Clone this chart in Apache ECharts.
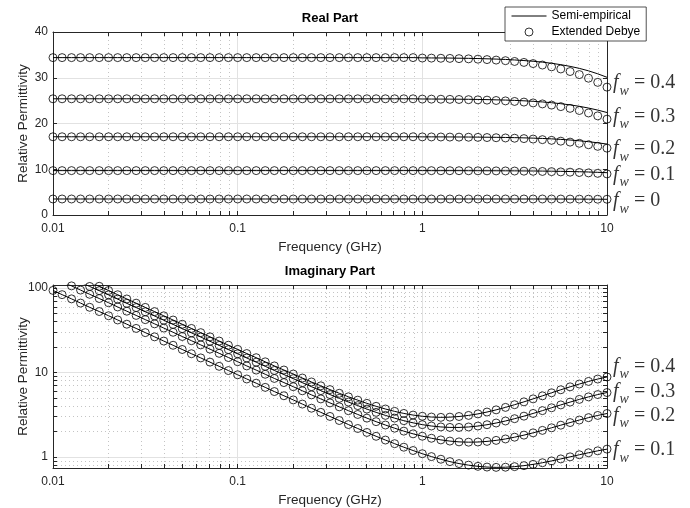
<!DOCTYPE html>
<html>
<head>
<meta charset="utf-8">
<script src="https://cdn.jsdelivr.net/npm/echarts@6/dist/echarts.min.js"></script>
<style>
html, body { margin: 0; padding: 0; background: #fff; }
#chart { width: 690px; height: 508px; }
</style>
</head>
<body>
<div id="chart"></div>
<script>
// frequency grid in GHz (20 points per decade)
const freq = [0.01, 0.0112, 0.0126, 0.0141, 0.0158, 0.0178, 0.02, 0.0224, 0.0251, 0.0282,
  0.0316, 0.0355, 0.0398, 0.0447, 0.0501, 0.0562, 0.0631, 0.0708, 0.0794, 0.0891,
  0.1, 0.112, 0.126, 0.141, 0.158, 0.178, 0.2, 0.224, 0.251, 0.282,
  0.316, 0.355, 0.398, 0.447, 0.501, 0.562, 0.631, 0.708, 0.794, 0.891,
  1, 1.12, 1.26, 1.41, 1.58, 1.78, 2, 2.24, 2.51, 2.82,
  3.16, 3.55, 3.98, 4.47, 5.01, 5.62, 6.31, 7.08, 7.94, 8.91, 10];

// real part - extended debye (markers)
const reDebye04 = [34.4, 34.4, 34.4, 34.4, 34.4, 34.4, 34.4, 34.4, 34.4, 34.4,
  34.4, 34.4, 34.4, 34.4, 34.4, 34.4, 34.4, 34.4, 34.4, 34.4,
  34.4, 34.4, 34.4, 34.4, 34.4, 34.4, 34.4, 34.4, 34.4, 34.4,
  34.4, 34.4, 34.4, 34.4, 34.4, 34.4, 34.4, 34.4, 34.4, 34.4,
  34.31, 34.29, 34.26, 34.23, 34.18, 34.13, 34.06, 33.97, 33.86, 33.73,
  33.56, 33.35, 33.10, 32.78, 32.39, 31.92, 31.36, 30.69, 29.90, 28.99, 27.95];
const reDebye03 = [25.4, 25.4, 25.4, 25.4, 25.4, 25.4, 25.4, 25.4, 25.4, 25.4,
  25.4, 25.4, 25.4, 25.4, 25.4, 25.4, 25.4, 25.4, 25.4, 25.4,
  25.4, 25.4, 25.4, 25.4, 25.4, 25.4, 25.4, 25.4, 25.4, 25.4,
  25.4, 25.4, 25.4, 25.4, 25.4, 25.4, 25.4, 25.4, 25.4, 25.4,
  25.34, 25.33, 25.31, 25.28, 25.25, 25.21, 25.17, 25.11, 25.03, 24.94,
  24.82, 24.68, 24.50, 24.28, 24.02, 23.69, 23.31, 22.84, 22.30, 21.67, 20.95];
const reDebye02 = [17.1, 17.1, 17.1, 17.1, 17.1, 17.1, 17.1, 17.1, 17.1, 17.1,
  17.1, 17.1, 17.1, 17.1, 17.1, 17.1, 17.1, 17.1, 17.1, 17.1,
  17.1, 17.1, 17.1, 17.1, 17.1, 17.1, 17.1, 17.1, 17.1, 17.1,
  17.1, 17.1, 17.1, 17.1, 17.1, 17.1, 17.1, 17.1, 17.1, 17.1,
  17.07, 17.06, 17.05, 17.03, 17.02, 17.00, 16.97, 16.93, 16.89, 16.84,
  16.78, 16.70, 16.60, 16.47, 16.32, 16.14, 15.93, 15.67, 15.36, 15.01, 14.61];
const reDebye01 = [9.7, 9.7, 9.7, 9.7, 9.7, 9.7, 9.7, 9.7, 9.7, 9.7,
  9.7, 9.7, 9.7, 9.7, 9.7, 9.7, 9.7, 9.7, 9.7, 9.7,
  9.7, 9.7, 9.7, 9.7, 9.7, 9.7, 9.7, 9.7, 9.7, 9.7,
  9.7, 9.7, 9.7, 9.7, 9.7, 9.7, 9.7, 9.7, 9.7, 9.7,
  9.69, 9.69, 9.68, 9.68, 9.68, 9.67, 9.66, 9.65, 9.64, 9.63,
  9.61, 9.58, 9.55, 9.52, 9.48, 9.42, 9.36, 9.29, 9.20, 9.10, 8.98];
const reDebye00 = [3.5, 3.5, 3.5, 3.5, 3.5, 3.5, 3.5, 3.5, 3.5, 3.5,
  3.5, 3.5, 3.5, 3.5, 3.5, 3.5, 3.5, 3.5, 3.5, 3.5,
  3.5, 3.5, 3.5, 3.5, 3.5, 3.5, 3.5, 3.5, 3.5, 3.5,
  3.5, 3.5, 3.5, 3.5, 3.5, 3.5, 3.5, 3.5, 3.5, 3.5,
  3.5, 3.5, 3.5, 3.5, 3.5, 3.5, 3.5, 3.5, 3.5, 3.5,
  3.5, 3.5, 3.5, 3.5, 3.5, 3.49, 3.48, 3.47, 3.46, 3.45, 3.44];

// real part - semi-empirical (lines)
const reSemi04 = [34.4, 34.4, 34.4, 34.4, 34.4, 34.4, 34.4, 34.4, 34.4, 34.4,
  34.4, 34.4, 34.4, 34.4, 34.4, 34.4, 34.4, 34.4, 34.4, 34.4,
  34.4, 34.4, 34.4, 34.4, 34.4, 34.4, 34.4, 34.4, 34.4, 34.4,
  34.4, 34.4, 34.4, 34.4, 34.4, 34.4, 34.4, 34.4, 34.4, 34.4,
  34.35, 34.33, 34.32, 34.30, 34.27, 34.24, 34.20, 34.14, 34.08, 34.00,
  33.89, 33.76, 33.60, 33.41, 33.16, 32.86, 32.49, 32.05, 31.51, 30.86, 30.10];
const reSemi03 = [25.4, 25.4, 25.4, 25.4, 25.4, 25.4, 25.4, 25.4, 25.4, 25.4,
  25.4, 25.4, 25.4, 25.4, 25.4, 25.4, 25.4, 25.4, 25.4, 25.4,
  25.4, 25.4, 25.4, 25.4, 25.4, 25.4, 25.4, 25.4, 25.4, 25.4,
  25.4, 25.4, 25.4, 25.4, 25.4, 25.4, 25.4, 25.4, 25.4, 25.4,
  25.36, 25.35, 25.34, 25.33, 25.31, 25.29, 25.26, 25.22, 25.17, 25.12,
  25.05, 24.96, 24.85, 24.71, 24.54, 24.33, 24.07, 23.76, 23.38, 22.93, 22.40];
const reSemi02 = [17.1, 17.1, 17.1, 17.1, 17.1, 17.1, 17.1, 17.1, 17.1, 17.1,
  17.1, 17.1, 17.1, 17.1, 17.1, 17.1, 17.1, 17.1, 17.1, 17.1,
  17.1, 17.1, 17.1, 17.1, 17.1, 17.1, 17.1, 17.1, 17.1, 17.1,
  17.1, 17.1, 17.1, 17.1, 17.1, 17.1, 17.1, 17.1, 17.1, 17.1,
  17.08, 17.08, 17.07, 17.06, 17.05, 17.04, 17.02, 17.00, 16.98, 16.95,
  16.91, 16.86, 16.80, 16.73, 16.64, 16.53, 16.39, 16.22, 16.02, 15.78, 15.50];
const reSemi01 = [9.7, 9.7, 9.7, 9.7, 9.7, 9.7, 9.7, 9.7, 9.7, 9.7,
  9.7, 9.7, 9.7, 9.7, 9.7, 9.7, 9.7, 9.7, 9.7, 9.7,
  9.7, 9.7, 9.7, 9.7, 9.7, 9.7, 9.7, 9.7, 9.7, 9.7,
  9.7, 9.7, 9.7, 9.7, 9.7, 9.7, 9.7, 9.7, 9.7, 9.7,
  9.70, 9.69, 9.69, 9.69, 9.69, 9.68, 9.68, 9.67, 9.67, 9.66,
  9.65, 9.63, 9.62, 9.60, 9.57, 9.54, 9.50, 9.46, 9.40, 9.33, 9.25];

// imaginary part (line and markers coincide)
const imFw01 = [94.0, 83.78, 74.66, 66.54, 59.31, 52.86, 47.11, 41.99, 37.42, 33.35,
  29.73, 26.50, 23.62, 21.05, 18.76, 16.72, 14.91, 13.29, 11.85, 10.56,
  9.415, 8.395, 7.486, 6.676, 5.956, 5.313, 4.742, 4.233, 3.781, 3.378,
  3.021, 2.704, 2.422, 2.174, 1.952, 1.758, 1.587, 1.437, 1.305, 1.192,
  1.093, 1.010, 0.940, 0.881, 0.835, 0.800, 0.774, 0.759, 0.753, 0.756,
  0.768, 0.789, 0.817, 0.854, 0.898, 0.948, 1.003, 1.062, 1.122, 1.182, 1.238];
const imFw02 = [134.0, 119.4, 106.4, 94.87, 84.56, 75.36, 67.17, 59.87, 53.36, 47.55,
  42.38, 37.78, 33.68, 30.02, 26.75, 23.85, 21.27, 18.96, 16.90, 15.07,
  13.44, 11.99, 10.70, 9.546, 8.522, 7.610, 6.800, 6.081, 5.441, 4.873,
  4.371, 3.926, 3.534, 3.189, 2.885, 2.620, 2.390, 2.192, 2.022, 1.879,
  1.761, 1.666, 1.593, 1.542, 1.509, 1.497, 1.503, 1.529, 1.572, 1.634,
  1.715, 1.814, 1.931, 2.065, 2.216, 2.380, 2.556, 2.738, 2.923, 3.104, 3.273];
const imFw03 = [166.0, 147.95, 131.86, 117.52, 104.76, 93.35, 83.22, 74.17, 66.10, 58.92,
  52.51, 46.81, 41.73, 37.20, 33.16, 29.55, 26.36, 23.51, 20.96, 18.70,
  16.68, 14.88, 13.28, 11.86, 10.59, 9.469, 8.471, 7.585, 6.798, 6.104,
  5.489, 4.947, 4.472, 4.056, 3.692, 3.377, 3.109, 2.882, 2.691, 2.537,
  2.415, 2.327, 2.268, 2.239, 2.238, 2.266, 2.324, 2.410, 2.524, 2.668,
  2.842, 3.045, 3.278, 3.539, 3.826, 4.137, 4.467, 4.808, 5.151, 5.485, 5.798];
const imFw04 = [187.0, 166.7, 148.5, 132.4, 118.02, 105.17, 93.75, 83.56, 74.47, 66.38,
  59.17, 52.74, 47.02, 41.92, 37.37, 33.32, 29.71, 26.50, 23.63, 21.08,
  18.82, 16.80, 15.00, 13.40, 11.99, 10.72, 9.605, 8.615, 7.737, 6.964,
  6.282, 5.684, 5.162, 4.709, 4.316, 3.981, 3.700, 3.467, 3.280, 3.136,
  3.034, 2.972, 2.947, 2.963, 3.015, 3.106, 3.236, 3.406, 3.615, 3.867,
  4.161, 4.498, 4.878, 5.300, 5.759, 6.253, 6.774, 7.310, 7.851, 8.376, 8.865];

// f_w annotations at the right edge
const reLabelText = ['0.4', '0.3', '0.2', '0.1', '0'];
const reLabelVals = [28.3, 21.0, 13.85, 8.25, 2.5];
const imLabelText = ['0.4', '0.3', '0.2', '0.1'];
const imLabelVals = [10.95, 5.55, 2.88, 1.13];

// ticks
const xMajor = [0.01, 0.1, 1, 10];
const xMinor = [0.02, 0.03, 0.04, 0.05, 0.06, 0.07, 0.08, 0.09,
  0.2, 0.3, 0.4, 0.5, 0.6, 0.7, 0.8, 0.9, 2, 3, 4, 5, 6, 7, 8, 9];
const yImMajor = [1, 10, 100];
const yImMinor = [0.8, 0.9, 2, 3, 4, 5, 6, 7, 8, 9, 20, 30, 40, 50, 60, 70, 80, 90];

const AX = '#262626';
const SANS = '"Liberation Sans", Arial, Helvetica, sans-serif';
const SERIF = '"Liberation Serif", "Times New Roman", serif';
const MAJOR_GRID = '#e2e2e2';
const MINOR_GRID = '#c4c4c4';

const pairs = (ys) => freq.map((f, i) => [f, ys[i]]);

function xAxesFor(g, title) {
  return [
    {
      type: 'log', logBase: 10, gridIndex: g, min: 0.01, max: 10, position: 'bottom',
      axisLine: { lineStyle: { color: AX, width: 1 } },
      axisTick: { inside: true, length: 4, customValues: xMajor, lineStyle: { color: AX } },
      axisLabel: { customValues: xMajor, formatter: v => String(v), color: AX, fontSize: 12, fontFamily: SANS, margin: 8 },
      splitLine: { show: true, lineStyle: { color: MAJOR_GRID, width: 1 } },
      name: 'Frequency (GHz)', nameLocation: 'middle', nameGap: 25,
      nameTextStyle: { color: AX, fontSize: 13.5, fontFamily: SANS }
    },
    {
      type: 'log', logBase: 10, gridIndex: g, min: 0.01, max: 10, position: 'bottom',
      axisLine: { show: false },
      axisTick: { inside: true, length: 4, customValues: xMinor, lineStyle: { color: AX } },
      axisLabel: { show: false },
      splitLine: { show: true, lineStyle: { color: MINOR_GRID, width: 1, type: [1, 3] } }
    },
    {
      type: 'log', logBase: 10, gridIndex: g, min: 0.01, max: 10, position: 'top',
      axisLine: { lineStyle: { color: AX, width: 1 } },
      axisTick: { inside: true, length: 4, customValues: xMajor.concat(xMinor), lineStyle: { color: AX } },
      axisLabel: { show: false },
      splitLine: { show: false },
      name: title, nameLocation: 'middle', nameGap: 7,
      nameTextStyle: { color: '#000', fontSize: 13, fontWeight: 'bold', fontFamily: SANS }
    }
  ];
}

const yName = {
  name: 'Relative Permittivity', nameLocation: 'middle', nameGap: 23, nameRotate: 90,
  nameMoveOverlap: false,
  nameTextStyle: { color: AX, fontSize: 13.5, fontFamily: SANS }
};

const yAxes = [
  Object.assign({
    type: 'value', gridIndex: 0, min: 0, max: 40, interval: 10, position: 'left',
    axisLine: { show: true, lineStyle: { color: AX, width: 1 } },
    axisTick: { show: true, inside: true, length: 4, lineStyle: { color: AX } },
    axisLabel: { color: AX, fontSize: 12, fontFamily: SANS, margin: 5 },
    splitLine: { show: true, lineStyle: { color: MAJOR_GRID, width: 1 } }
  }, yName),
  {
    type: 'value', gridIndex: 0, min: 0, max: 40, interval: 10, position: 'right',
    axisLine: { show: true, lineStyle: { color: AX, width: 1 } },
    axisTick: { show: true, inside: true, length: 4, lineStyle: { color: AX } },
    axisLabel: { show: false }, splitLine: { show: false }
  },
  Object.assign({
    type: 'log', logBase: 10, gridIndex: 1, min: 0.74, max: 109, position: 'left',
    axisLine: { show: true, lineStyle: { color: AX, width: 1 } },
    axisTick: { show: true, inside: true, length: 4, customValues: yImMajor, lineStyle: { color: AX } },
    axisLabel: { customValues: yImMajor, formatter: v => String(v), color: AX, fontSize: 12, fontFamily: SANS, margin: 5 },
    splitLine: { show: true, lineStyle: { color: MAJOR_GRID, width: 1 } }
  }, yName),
  {
    type: 'log', logBase: 10, gridIndex: 1, min: 0.74, max: 109, position: 'left',
    axisLine: { show: false },
    axisTick: { show: true, inside: true, length: 4, customValues: yImMinor, lineStyle: { color: AX } },
    axisLabel: { show: false },
    splitLine: { show: true, lineStyle: { color: MINOR_GRID, width: 1, type: [1, 3] } }
  },
  {
    type: 'log', logBase: 10, gridIndex: 1, min: 0.74, max: 109, position: 'right',
    axisLine: { show: true, lineStyle: { color: AX, width: 1 } },
    axisTick: { show: true, inside: true, length: 4, customValues: yImMajor.concat(yImMinor), lineStyle: { color: AX } },
    axisLabel: { show: false }, splitLine: { show: false }
  }
];

const series = [];
function addCurve(xi, yi, lineVals, markVals) {
  series.push({
    name: 'Semi-empirical', type: 'line', xAxisIndex: xi, yAxisIndex: yi,
    data: pairs(lineVals), symbol: 'none', smooth: false, silent: true,
    lineStyle: { color: '#000', width: 1 }, itemStyle: { color: '#000' }, z: 3
  });
  series.push({
    name: 'Extended Debye', type: 'scatter', xAxisIndex: xi, yAxisIndex: yi,
    data: pairs(markVals), symbol: 'circle', symbolSize: 8, silent: true,
    itemStyle: { color: 'transparent', borderColor: '#000', borderWidth: 0.8, opacity: 1 }, z: 4
  });
}
addCurve(0, 0, reSemi04, reDebye04);
addCurve(0, 0, reSemi03, reDebye03);
addCurve(0, 0, reSemi02, reDebye02);
addCurve(0, 0, reSemi01, reDebye01);
addCurve(0, 0, reDebye00, reDebye00);
addCurve(3, 2, imFw04, imFw04);
addCurve(3, 2, imFw03, imFw03);
addCurve(3, 2, imFw02, imFw02);
addCurve(3, 2, imFw01, imFw01);

const fwRich = {
  f: { fontFamily: SERIF, fontStyle: 'italic', fontSize: 20, color: '#000', verticalAlign: 'bottom', padding: [0, 1, 5, 0] },
  w: { fontFamily: SERIF, fontStyle: 'italic', fontSize: 14, color: '#000', verticalAlign: 'bottom', padding: [0, 0, 0, 0] },
  t: { fontFamily: SERIF, fontSize: 20, color: '#000', verticalAlign: 'bottom', padding: [0, 0, 5, 0] }
};
function addLabels(xi, yi, vals, texts) {
  series.push({
    name: 'fw-labels', type: 'scatter', xAxisIndex: xi, yAxisIndex: yi, clip: false,
    data: vals.map(v => [10, v]), symbolSize: 0, silent: true,
    label: {
      show: true, position: 'right', distance: 6,
      formatter: p => '{f|f}{w|w}{t| = ' + texts[p.dataIndex] + '}',
      rich: fwRich
    }
  });
}
addLabels(0, 0, reLabelVals, reLabelText);
addLabels(3, 2, imLabelVals, imLabelText);

const chart = echarts.init(document.getElementById('chart'), null, { renderer: 'canvas' });
chart.setOption({
  animation: false,
  backgroundColor: '#fff',
  grid: [
    { left: 53, top: 32, width: 554, height: 183, outerBoundsMode: 'none' },
    { left: 53, top: 285, width: 554, height: 183, outerBoundsMode: 'none' }
  ],
  legend: {
    data: [
      { name: 'Semi-empirical', itemStyle: { color: 'transparent', borderWidth: 0 }, lineStyle: { color: '#000', width: 1 } },
      { name: 'Extended Debye', itemStyle: { color: 'transparent', borderColor: '#000', borderWidth: 0.8 } }
    ],
    orient: 'vertical', left: 505, top: 7,
    backgroundColor: '#fff', borderColor: AX, borderWidth: 0.8, borderRadius: 0,
    padding: [3, 6, 3, 6], itemWidth: 35, itemHeight: 8, itemGap: 4,
    selectedMode: false,
    textStyle: { color: '#000', fontSize: 12, fontFamily: SANS }
  },
  xAxis: xAxesFor(0, 'Real Part').concat(xAxesFor(1, 'Imaginary Part')),
  yAxis: yAxes,
  series: series
});
</script>
</body>
</html>
